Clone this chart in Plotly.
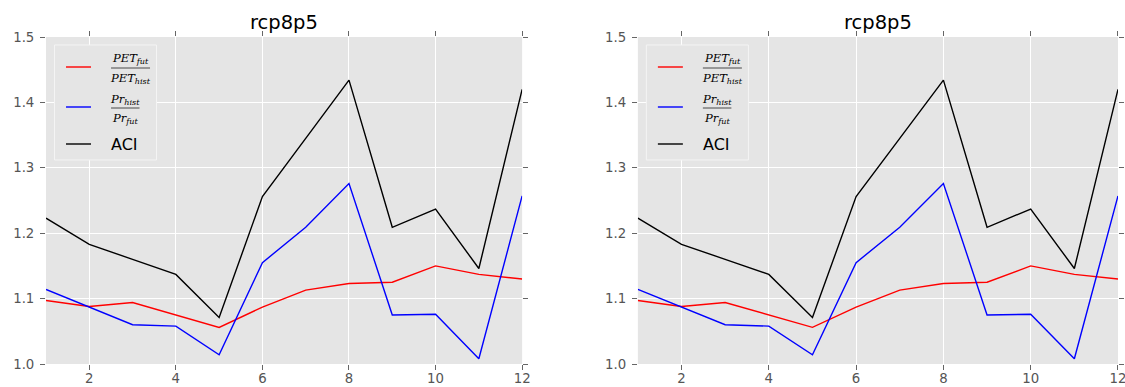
import plotly.graph_objects as go

months = [1, 2, 3, 4, 5, 6, 7, 8, 9, 10, 11, 12]
pet_ratio = [1.097, 1.088, 1.094, 1.075, 1.056, 1.087, 1.113, 1.123, 1.125, 1.150, 1.137, 1.130]
pr_ratio = [1.114, 1.087, 1.060, 1.058, 1.014, 1.155, 1.209, 1.276, 1.075, 1.076, 1.008, 1.257]
aci = [1.223, 1.183, 1.160, 1.137, 1.071, 1.256, 1.345, 1.434, 1.209, 1.237, 1.146, 1.420]
titles = ["rcp8p5", "rcp8p5"]
x_ticks = [2, 4, 6, 8, 10, 12]
y_ticks = [1.0, 1.1, 1.2, 1.3, 1.4, 1.5]

W, H = 1125, 387
ml, mr, mt, mb = 46, 7.3, 37, 23
pw = W - ml - mr
ph = H - mt - mb
doms = [[0, (522 - 46) / pw], [(637.7 - 46) / pw, 1]]

fig = go.Figure()
series = [(pet_ratio, "#ff0000"), (pr_ratio, "#0000ff"), (aci, "#000000")]
for i in range(2):
    xa = "x" if i == 0 else "x2"
    ya = "y" if i == 0 else "y2"
    for vals, col in series:
        fig.add_trace(go.Scatter(x=months, y=vals, mode="lines", xaxis=xa, yaxis=ya,
                                 line=dict(color=col, width=1.4), showlegend=False,
                                 hoverinfo="skip"))

axis_common = dict(showgrid=True, gridcolor="white", gridwidth=1, zeroline=False,
                   showline=False, ticks="outside", ticklen=5, tickwidth=1,
                   tickcolor="#666666", mirror="ticks", automargin=False,
                   ticklabeloverflow="allow",
                   tickfont=dict(family="DejaVu Sans", size=13.3, color="#555555"))

layout = dict(width=W, height=H, margin=dict(l=ml, r=mr, t=mt, b=mb, autoexpand=False),
              paper_bgcolor="white", plot_bgcolor="#E5E5E5")
for i in range(2):
    sx = "" if i == 0 else "2"
    layout["xaxis" + sx] = dict(axis_common, domain=doms[i], range=[1, 12],
                                tickvals=x_ticks, anchor="y" + sx,
                                ticklabelstandoff=-3)
    layout["yaxis" + sx] = dict(axis_common, domain=[0, 1], range=[1.0, 1.5],
                                tickvals=y_ticks, tickformat=".1f", anchor="x" + sx,
                                ticklabelstandoff=3)
fig.update_layout(**layout)

def px(xp):
    return (xp - ml) / pw

def py(yp):
    return 1 - (yp - mt) / ph

shapes = []
annotations = []
for i in range(2):
    off = 0 if i == 0 else 591.7
    cx = (doms[i][0] + doms[i][1]) / 2
    annotations.append(dict(x=cx, y=py(23), xref="paper", yref="paper", text=titles[i],
                            showarrow=False, xanchor="center", yanchor="middle",
                            font=dict(family="DejaVu Sans", size=19.5, color="black")))
    shapes.append(dict(type="rect", xref="paper", yref="paper",
                       x0=px(54.5 + off), x1=px(156.5 + off), y0=py(160), y1=py(45),
                       line=dict(color="#F4F4F4", width=1), fillcolor="#E5E5E5"))
    for yy, col in [(67, "#ff0000"), (107, "#0000ff"), (144, "#000000")]:
        shapes.append(dict(type="line", xref="paper", yref="paper",
                           x0=px(66 + off), x1=px(91 + off), y0=py(yy), y1=py(yy),
                           line=dict(color=col, width=1.4)))
    mfont = dict(family="DejaVu Serif", size=11.5, color="black")
    shapes.append(dict(type="line", xref="paper", yref="paper",
                       x0=px(111 + off), x1=px(150 + off), y0=py(68), y1=py(68),
                       line=dict(color="#222222", width=0.8)))
    annotations.append(dict(x=px(130.5 + off), y=py(59), xref="paper", yref="paper",
                            text="<i>PET<sub>fut</sub></i>", showarrow=False,
                            xanchor="center", yanchor="middle", font=mfont))
    annotations.append(dict(x=px(130.5 + off), y=py(78), xref="paper", yref="paper",
                            text="<i>PET<sub>hist</sub></i>", showarrow=False,
                            xanchor="center", yanchor="middle", font=mfont))
    shapes.append(dict(type="line", xref="paper", yref="paper",
                       x0=px(111 + off), x1=px(139.5 + off), y0=py(108), y1=py(108),
                       line=dict(color="#222222", width=0.8)))
    annotations.append(dict(x=px(125 + off), y=py(99), xref="paper", yref="paper",
                            text="<i>Pr<sub>hist</sub></i>", showarrow=False,
                            xanchor="center", yanchor="middle", font=mfont))
    annotations.append(dict(x=px(125 + off), y=py(118), xref="paper", yref="paper",
                            text="<i>Pr<sub>fut</sub></i>", showarrow=False,
                            xanchor="center", yanchor="middle", font=mfont))
    annotations.append(dict(x=px(109 + off), y=py(144), xref="paper", yref="paper",
                            text="ACI", showarrow=False, xanchor="left", yanchor="middle",
                            font=dict(family="DejaVu Sans", size=16, color="black")))

fig.update_layout(shapes=shapes, annotations=annotations)
fig.write_html("out.html", config={"displayModeBar": False},
               post_script="document.body.style.margin='0px';document.body.style.overflow='hidden';")
